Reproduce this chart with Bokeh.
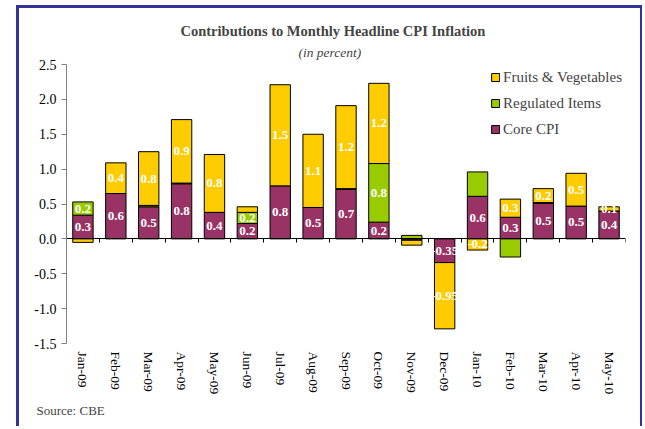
import numpy as np
from bokeh.plotting import figure
from bokeh.models import (ColumnDataSource, Range1d, LinearAxis, FixedTicker,
                          NumeralTickFormatter, Legend, LegendItem, Title)
from bokeh.embed import file_html
from bokeh.resources import INLINE

months = ["Jan-09", "Feb-09", "Mar-09", "Apr-09", "May-09", "Jun-09", "Jul-09", "Aug-09",
          "Sep-09", "Oct-09", "Nov-09", "Dec-09", "Jan-10", "Feb-10", "Mar-10", "Apr-10", "May-10"]
core = [0.34, 0.65, 0.46, 0.79, 0.38, 0.22, 0.76, 0.45, 0.71, 0.24, -0.02, -0.34, 0.61, 0.31, 0.51, 0.47, 0.40]
regulated = [0.19, 0.0, 0.02, 0.01, 0.0, 0.16, 0.0, 0.0, 0.01, 0.84, 0.05, 0.0, 0.35, -0.26, 0.01, 0.0, 0.0]
fruits = [-0.05, 0.44, 0.77, 0.91, 0.83, 0.08, 1.45, 1.05, 1.19, 1.15, -0.07, -0.95, -0.16, 0.26, 0.20, 0.47, 0.06]
core_labels = ["0.3", "0.6", "0.5", "0.8", "0.4", "0.2", "0.8", "0.5", "0.7", "0.2", "", "-0.35",
               "0.6", "0.3", "0.5", "0.5", "0.4"]
reg_labels = ["0.2", "", "", "", "", "0.2", "", "", "", "0.8", "", "", "", "", "", "", ""]
fruit_labels = ["", "0.4", "0.8", "0.9", "0.8", "", "1.5", "1.1", "1.2", "1.2", "", "-0.95",
                "-0.2", "0.3", "0.2", "0.5", "0.1"]
series_names = ["Core CPI", "Regulated Items", "Fruits & Vegetables"]
colors = ["#993366", "#99CC00", "#FFCC00"]
y_ticks = [-1.5, -1.0, -0.5, 0.0, 0.5, 1.0, 1.5, 2.0, 2.5]

SERIF = "Liberation Serif"
n = len(months)
idx = np.arange(n)

p = figure(x_range=Range1d(-0.5, n - 0.5), y_range=Range1d(-1.5, 2.5),
           width=621, height=418, output_backend="svg", toolbar_location=None,
           min_border_left=47, min_border_right=20, min_border_top=56, min_border_bottom=86)
p.styles = {"box-sizing": "content-box", "margin-left": "16px", "margin-top": "5px",
            "border-left": "3px solid #333399", "border-top": "3px solid #333399",
            "border-right": "2px solid #333399"}
p.outline_line_color = None
p.grid.grid_line_color = None
p.background_fill_color = "white"
p.border_fill_color = "white"

vals = np.array([core, regulated, fruits])
pos = np.clip(vals, 0, None)
neg = np.clip(vals, None, 0)
pos_top = np.cumsum(pos, axis=0)
pos_bot = pos_top - pos
neg_bot = np.cumsum(neg, axis=0)
neg_top = neg_bot - neg
label_sets = [core_labels, reg_labels, fruit_labels]

renderers = []
lab_x, lab_y, lab_t = [], [], []
for i in range(3):
    v = vals[i]
    bottom = np.where(v >= 0, pos_bot[i], neg_bot[i])
    top = np.where(v >= 0, pos_top[i], neg_top[i])
    keep = v != 0
    src = ColumnDataSource(dict(x=idx[keep], bottom=bottom[keep], top=top[keep]))
    r = p.vbar(x="x", bottom="bottom", top="top", width=0.62, source=src,
               fill_color=colors[i], line_color="black", line_width=1)
    renderers.append(r)
    for j, (b, t, lab) in enumerate(zip(bottom, top, label_sets[i])):
        if lab:
            lab_x.append(j)
            lab_y.append((b + t) / 2)
            lab_t.append(lab)

p.text(x=lab_x, y=lab_y, text=lab_t, text_align="center", text_baseline="middle",
       text_color="white", text_font_style="bold", text_font_size="13px",
       text_font={"value": SERIF})

# y axis
p.yaxis.ticker = FixedTicker(ticks=y_ticks)
p.yaxis.formatter = NumeralTickFormatter(format="0.0")
p.yaxis.axis_line_color = "#808080"
p.yaxis.major_tick_line_color = "#808080"
p.yaxis.major_tick_out = 5
p.yaxis.major_tick_in = 0
p.yaxis.minor_tick_line_color = None
p.yaxis.major_label_text_font = SERIF
p.yaxis.major_label_text_font_size = "14px"
p.yaxis.major_label_text_color = "black"
p.yaxis.major_label_standoff = 5

# category labels at bottom
p.xaxis.ticker = FixedTicker(ticks=list(idx))
p.xaxis.major_label_overrides = {int(j): m for j, m in zip(idx, months)}
p.xaxis.axis_line_color = None
p.xaxis.major_tick_line_color = None
p.xaxis.minor_tick_line_color = None
p.xaxis.major_label_orientation = "vertical"
p.xaxis.major_label_text_font = SERIF
p.xaxis.major_label_text_font_size = "13.5px"
p.xaxis.major_label_text_color = "black"
p.xaxis.major_label_standoff = 2

# zero axis with ticks between categories
bounds = [j - 0.5 for j in range(n + 1)]
zero_axis = LinearAxis(fixed_location=0, ticker=FixedTicker(ticks=bounds),
                       major_label_overrides={b: "" for b in bounds},
                       axis_line_color="black", major_tick_line_color="black",
                       major_tick_out=4, major_tick_in=0, minor_tick_line_color=None,
                       major_label_text_font_size="1px")
p.add_layout(zero_axis, "below")

legend = Legend(items=[LegendItem(label=series_names[i], renderers=[renderers[i]]) for i in (2, 1, 0)],
                location="top_right", border_line_color=None, background_fill_alpha=0,
                label_text_font=SERIF, label_text_font_size="15px",
                glyph_width=10, glyph_height=10, label_standoff=3, spacing=6,
                label_height=20, padding=4, margin=3)
p.add_layout(legend)

p.add_layout(Title(text="(in percent)", align="left", text_font=SERIF, text_font_size="13.5px",
                   text_font_style="italic", offset=232, standoff=9), "above")
p.add_layout(Title(text="Contributions to Monthly Headline CPI Inflation", align="left",
                   text_font=SERIF, text_font_size="14.5px", text_font_style="bold", offset=114,
                   standoff=0), "above")
p.add_layout(Title(text="Source: CBE", align="left", text_font=SERIF, text_font_size="13px",
                   text_font_style="normal", offset=-30, standoff=7), "below")

open("out.html", "w").write(file_html(p, INLINE))
